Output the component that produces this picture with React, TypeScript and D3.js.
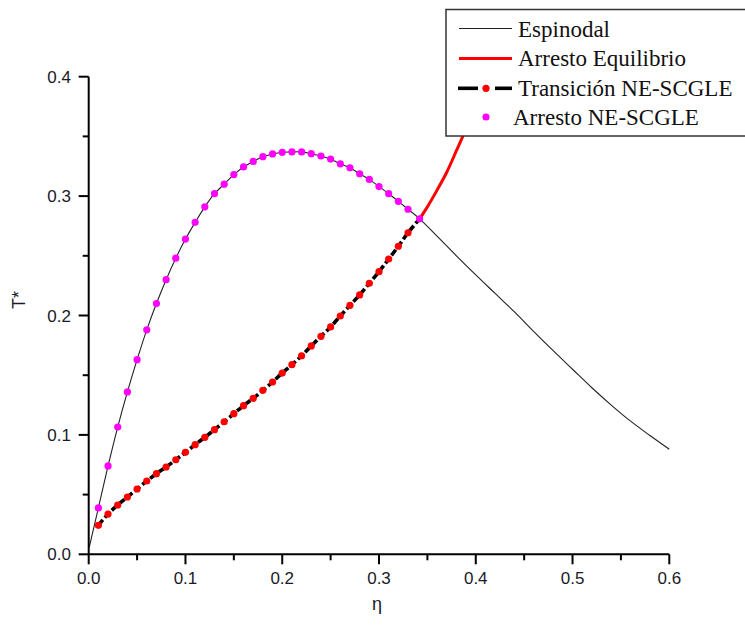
import React from "react";
import * as d3 from "d3";

const W = 745;
const H = 625;

// Espinodal (spinodal line)
const spinEta = [0.0006, 0.01, 0.02, 0.03, 0.04, 0.05, 0.06, 0.07, 0.08, 0.09, 0.10, 0.11, 0.12, 0.13, 0.14, 0.15, 0.16, 0.17, 0.18, 0.19, 0.20, 0.21, 0.22, 0.23, 0.24, 0.25, 0.26, 0.27, 0.28, 0.29, 0.30, 0.31, 0.32, 0.33, 0.342, 0.36, 0.38, 0.40, 0.42, 0.44, 0.46, 0.48, 0.50, 0.52, 0.54, 0.56, 0.58, 0.60];
const spinT = [0.006, 0.0388, 0.074, 0.1066, 0.136, 0.163, 0.188, 0.210, 0.230, 0.248, 0.264, 0.278, 0.291, 0.302, 0.310, 0.318, 0.3244, 0.329, 0.333, 0.3353, 0.3367, 0.337, 0.337, 0.3355, 0.3336, 0.331, 0.327, 0.3237, 0.3187, 0.314, 0.308, 0.302, 0.2956, 0.289, 0.281, 0.2665, 0.250, 0.234, 0.2185, 0.203, 0.1865, 0.1705, 0.155, 0.1395, 0.125, 0.1115, 0.0995, 0.088];

// Arresto Equilibrio
const eqEta = [0.342, 0.350, 0.360, 0.370, 0.380, 0.386, 0.395, 0.405, 0.412];
const eqT = [0.281, 0.291, 0.305, 0.320, 0.338, 0.349, 0.367, 0.387, 0.400];

// Transición NE-SCGLE
const trEta = [0.01, 0.02, 0.03, 0.04, 0.05, 0.06, 0.07, 0.08, 0.09, 0.10, 0.11, 0.12, 0.13, 0.14, 0.15, 0.16, 0.17, 0.18, 0.19, 0.20, 0.21, 0.22, 0.23, 0.24, 0.25, 0.26, 0.27, 0.28, 0.29, 0.30, 0.31, 0.32, 0.33, 0.342];
const trT = [0.0243, 0.0337, 0.0413, 0.048, 0.0547, 0.0614, 0.0675, 0.0731, 0.0792, 0.0854, 0.0918, 0.098, 0.1044, 0.111, 0.1178, 0.1245, 0.1306, 0.1373, 0.1443, 0.1518, 0.1588, 0.1663, 0.1745, 0.1826, 0.1904, 0.1996, 0.2085, 0.2172, 0.227, 0.2367, 0.2473, 0.258, 0.2693, 0.281];

// Arresto NE-SCGLE
const arEta = [0.01, 0.02, 0.03, 0.04, 0.05, 0.06, 0.07, 0.08, 0.09, 0.10, 0.11, 0.12, 0.13, 0.14, 0.15, 0.16, 0.17, 0.18, 0.19, 0.20, 0.21, 0.22, 0.23, 0.24, 0.25, 0.26, 0.27, 0.28, 0.29, 0.30, 0.31, 0.32, 0.33, 0.342];
const arT = [0.0388, 0.074, 0.1066, 0.136, 0.163, 0.188, 0.210, 0.230, 0.248, 0.264, 0.278, 0.291, 0.302, 0.310, 0.318, 0.3244, 0.329, 0.333, 0.3353, 0.3367, 0.337, 0.337, 0.3355, 0.3336, 0.331, 0.327, 0.3237, 0.3187, 0.314, 0.308, 0.302, 0.2956, 0.289, 0.281];

const xMajor = [0, 0.1, 0.2, 0.3, 0.4, 0.5, 0.6];
const xMinor = [0.05, 0.15, 0.25, 0.35, 0.45, 0.55];
const yMajor = [0, 0.1, 0.2, 0.3, 0.4];
const yMinor = [0.05, 0.15, 0.25, 0.35];

const legendLabels = ["Espinodal", "Arresto Equilibrio", "Transición NE-SCGLE", "Arresto NE-SCGLE"];

export default function App() {
  const x = d3.scaleLinear().domain([0, 0.6]).range([88.7, 669.3]);
  const y = d3.scaleLinear().domain([0, 0.4]).range([554.3, 76.7]);

  const line = d3
    .line<[number, number]>()
    .x((d) => x(d[0]))
    .y((d) => y(d[1]))
    .curve(d3.curveCatmullRom);

  const spin = spinEta.map((e, i) => [e, spinT[i]] as [number, number]);
  const eq = eqEta.map((e, i) => [e, eqT[i]] as [number, number]);
  const tr = trEta.map((e, i) => [e, trT[i]] as [number, number]);
  const ar = arEta.map((e, i) => [e, arT[i]] as [number, number]);

  const sans = "'Liberation Sans', Arial, sans-serif";
  const serif = "'Liberation Serif', 'Times New Roman', serif";
  const textColor = "#1a1a28";

  const axX0 = x(0);
  const axY0 = y(0);

  const legX = 446;
  const legY = 9.5;
  const rowY = [28.5, 58.5, 88.3, 117];
  const baseY = [36.5, 66, 95.5, 124.5];

  return (
    <svg width={W} height={H} style={{ position: "absolute", left: 0, top: 0, background: "#fff" }}>
      <defs>
        <clipPath id="plotclip">
          <rect x={axX0} y={y(0.4)} width={x(0.6) - axX0 + 5} height={axY0 - y(0.4)} />
        </clipPath>
      </defs>

      {/* Spinodal */}
      <path d={line(spin) || ""} fill="none" stroke="#222" strokeWidth={1.1} />

      {/* Equilibrium arrest */}
      <g clipPath="url(#plotclip)">
        <path d={line(eq) || ""} fill="none" stroke="#ff0000" strokeWidth={3} />
      </g>

      {/* Transition */}
      <path d={line(tr) || ""} fill="none" stroke="#000" strokeWidth={3.6} strokeDasharray="7,3" />
      {tr.slice(0, tr.length - 1).map((d, i) => (
        <circle key={"t" + i} cx={x(d[0])} cy={y(d[1])} r={3.6} fill="#ff0000" />
      ))}

      {/* Arrest NE-SCGLE */}
      {ar.map((d, i) => (
        <circle key={"a" + i} cx={x(d[0])} cy={y(d[1])} r={3.6} fill="#ff00ff" />
      ))}

      {/* Axes */}
      <line x1={axX0} x2={x(0.6)} y1={axY0} y2={axY0} stroke="#000" strokeWidth={2} />
      <line x1={axX0} x2={axX0} y1={axY0 + 1} y2={y(0.4)} stroke="#000" strokeWidth={2} />
      {xMajor.map((t) => (
        <g key={"xm" + t}>
          <line x1={x(t)} x2={x(t)} y1={axY0} y2={axY0 + 10} stroke="#000" strokeWidth={2} />
          <text x={x(t)} y={584} textAnchor="middle" fontFamily={sans} fontSize={17} fill={textColor}>
            {t.toFixed(1)}
          </text>
        </g>
      ))}
      {xMinor.map((t) => (
        <line key={"xn" + t} x1={x(t)} x2={x(t)} y1={axY0} y2={axY0 + 6} stroke="#000" strokeWidth={2} />
      ))}
      {yMajor.map((t) => (
        <g key={"ym" + t}>
          <line x1={axX0 - 10} x2={axX0} y1={y(t)} y2={y(t)} stroke="#000" strokeWidth={2} />
          <text x={71} y={y(t) + 6} textAnchor="end" fontFamily={sans} fontSize={17} fill={textColor}>
            {t.toFixed(1)}
          </text>
        </g>
      ))}
      {yMinor.map((t) => (
        <line key={"yn" + t} x1={axX0 - 6} x2={axX0} y1={y(t)} y2={y(t)} stroke="#000" strokeWidth={2} />
      ))}

      {/* Axis labels */}
      <text x={377} y={610} textAnchor="middle" fontFamily={sans} fontSize={18} fill={textColor}>
        η
      </text>
      <text
        transform={`translate(25, 300) rotate(-90)`}
        textAnchor="middle"
        fontFamily={sans}
        fontSize={18}
        fill={textColor}
      >
        T*
      </text>

      {/* Legend */}
      <rect x={legX} y={legY} width={W - legX + 5} height={136 - legY} fill="#fff" stroke="#333" strokeWidth={1.5} />
      <line x1={459} x2={512} y1={rowY[0]} y2={rowY[0]} stroke="#222" strokeWidth={1.1} />
      <line x1={459} x2={512} y1={rowY[1]} y2={rowY[1]} stroke="#ff0000" strokeWidth={3} />
      <line x1={458} x2={478} y1={rowY[2]} y2={rowY[2]} stroke="#000" strokeWidth={3.6} />
      <line x1={495} x2={512} y1={rowY[2]} y2={rowY[2]} stroke="#000" strokeWidth={3.6} />
      <circle cx={486} cy={rowY[2]} r={3.6} fill="#ff0000" />
      <circle cx={486} cy={rowY[3]} r={3.6} fill="#ff00ff" />
      {legendLabels.map((l, i) => (
        <text key={l} x={i === 3 ? 513 : 518} y={baseY[i]} fontFamily={serif} fontSize={23} fill="#111">
          {l}
        </text>
      ))}
    </svg>
  );
}
